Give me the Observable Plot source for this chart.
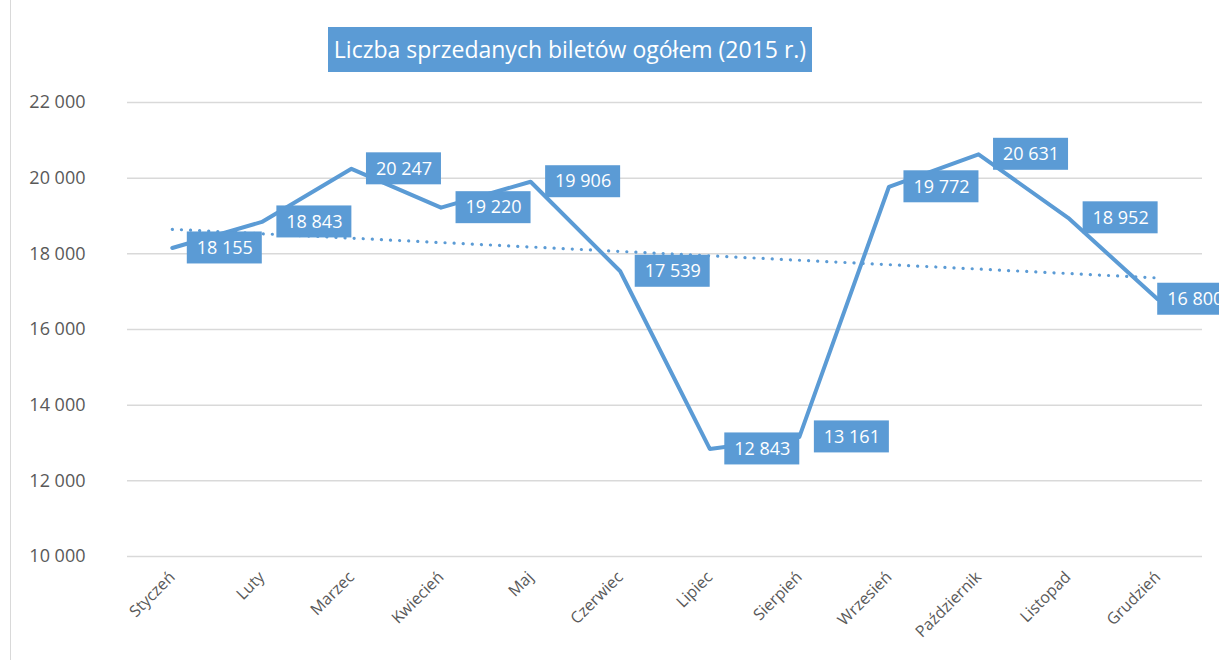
<!DOCTYPE html>
<html><head><meta charset="utf-8">
<script src="https://cdn.jsdelivr.net/npm/d3@7"></script>
<script src="https://cdn.jsdelivr.net/npm/@observablehq/plot@0.6"></script>
<style>
body{margin:0;width:1219px;height:660px;overflow:hidden;background:#fff;font-family:"Open Sans",sans-serif;position:relative}
#frame{position:absolute;left:10px;top:0;bottom:0;border-left:1.5px solid #d9d9d9}
#head{position:relative;height:80px}
#title{position:absolute;left:328px;top:27px;width:484px;height:45px;background:#5b9bd5;color:#fff;font-size:23px;line-height:45px;text-align:center;white-space:nowrap}
#chart svg{display:block}
</style></head><body>
<div id="frame"></div>
<div id="head"><div id="title">Liczba sprzedanych biletów ogółem (2015 r.)</div></div>
<div id="chart"></div>
<script>
const months = ["Styczeń","Luty","Marzec","Kwiecień","Maj","Czerwiec","Lipiec","Sierpień","Wrzesień","Październik","Listopad","Grudzień"];
const tickets = [18155,18843,20247,19220,19906,17539,12843,13161,19772,20631,18952,16800];
const yTicks = [10000,12000,14000,16000,18000,20000,22000];

const data = months.map((m, i) => ({i, m, v: tickets[i]}));
const inner = data.slice(0, -1);
const last = data.slice(-1);
const fmt = d => d3.format(",")(d).replace(/,/g, " ");
const blue = "#5b9bd5";

const labelBox = (arr, off) => Plot.rect(arr, {x1: "i", x2: "i", y1: "v", y2: "v", insetLeft: off, insetRight: -(off + 75), insetTop: -16, insetBottom: -16, fill: blue});
const labelText = (arr, off) => Plot.text(arr, {x: "i", y: "v", text: d => fmt(d.v), dx: off + 37.5, fill: "white", fontSize: 18});

const chart = Plot.plot({
  width: 1219,
  height: 580,
  marginTop: 22,
  marginBottom: 104,
  marginLeft: 127,
  marginRight: 17,
  style: {color: "#595959", fontFamily: "'Open Sans', sans-serif", background: "transparent"},
  x: {type: "linear", domain: [-0.5, 11.5]},
  y: {domain: [10000, 22000]},
  marks: [
    Plot.gridY(yTicks, {stroke: "#d9d9d9", strokeOpacity: 1, strokeWidth: 1.5}),
    Plot.axisY(yTicks, {tickSize: 0, tickPadding: 42, tickFormat: fmt, fontSize: 18, label: null}),
    Plot.axisX(months.map((m, i) => i), {tickFormat: i => months[i], tickRotate: -45, tickSize: 0, tickPadding: 18, fontSize: 16, label: null}),
    Plot.linearRegressionY(data, {x: "i", y: "v", ci: 0, stroke: blue, strokeWidth: 3.2, strokeDasharray: "0.1 9", strokeLinecap: "round"}),
    Plot.line(data, {x: "i", y: "v", stroke: blue, strokeWidth: 4}),
    labelBox(inner, 15),
    labelText(inner, 15),
    labelBox(last, 0),
    labelText(last, 0)
  ]
});
document.getElementById("chart").appendChild(chart);
</script>
</body></html>
